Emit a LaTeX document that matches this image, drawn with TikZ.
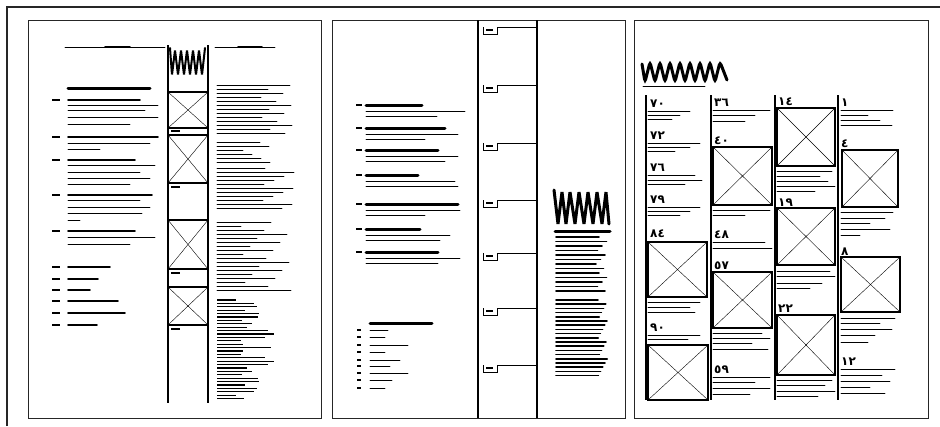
\documentclass[tikz,border=0pt]{standalone}
\usepackage{fontspec}
\newfontfamily\arabicfont[Script=Arabic]{DejaVu Sans}
\tikzset{
  outer/.style={line width=2.6pt,draw=black!85},
  panel/.style={line width=1pt,draw=black!85},
  rule/.style={line width=1.1pt},
  txt/.style={line width=0.9pt,line cap=round},
  bold/.style={line width=1.6pt,line cap=round},
  head/.style={line width=3pt,line cap=round},
  tag/.style={line width=1.8pt},
  squig/.style={line width=2pt,rounded corners=1.5pt,line cap=round},
  num/.style={anchor=south west,inner sep=0pt,font=\arabicfont\bfseries\fontsize{12}{12}\selectfont}
}
\begin{document}
\begin{tikzpicture}[x=1pt,y=-1pt]
\useasboundingbox (0,0) rectangle (940,426);
% outer frame and the three pages
\draw[outer] (7,426) -- (7,7) -- (940,7);
\draw[panel] (28,20) rectangle (321,418);
\draw[panel] (332,20) rectangle (625,418);
\draw[panel] (634,20) rectangle (928,418);

% ---- page 1 ----
\draw[txt] (65,47) -- (165,47);
\draw[bold] (105,47) -- (130,47);
\draw[txt] (215,47) -- (275,47);
\draw[bold] (238,47) -- (262,47);
\draw[rule] (168,45) -- (168,403);
\draw[rule] (208,45) -- (208,403);
\draw[squig] (170,48) -- (172,75) -- (175,50) -- (178,75) -- (181,50) -- (184,75) -- (187,50)
  -- (190,75) -- (193,50) -- (196,75) -- (199,50) -- (202,75) -- (205,48);
\foreach \ya/\yb in {92/128,135/183,220/269,287/325} {
  \draw[rule] (168,\ya) rectangle (208,\yb);
  \draw (168,\ya) -- (208,\yb);
  \draw (208,\ya) -- (168,\yb);
}
\foreach \y in {131,187,273,329} \draw[tag] (171,\y) -- (180,\y);
% left column
\draw[head] (68,88) -- (150,88);
\foreach \y in {100,137,160,195,231,267,279,290,301,313,325} \draw[tag] (52,\y) -- (60,\y);
\foreach \y/\l in {100/140,137/158,160/135,195/152,231/135}
  \draw[bold] (68,\y) -- (\l,\y);
\foreach \y/\l in {105/158,110/145,117/158,124/130,143/150,149/100,165/155,172/140,178/150,
  184/130,200/140,207/150,213/142,220/80,237/155,244/130}
  \draw[txt] (68,\y) -- (\l,\y);
\foreach \y/\l in {267/110,279/98,290/90,301/118,313/125,325/97}
  \draw[bold] (68,\y) -- (\l,\y);
% right column
\foreach \y in {85,89,...,133} {
  \pgfmathsetmacro\ll{258+mod(\y*13,37)}
  \draw[txt] (217,\y) -- (\ll,\y);
}
\foreach \y in {142,146,...,162} {
  \pgfmathsetmacro\ll{238+mod(\y*11,35)}
  \draw[txt] (217,\y) -- (\ll,\y);
}
\foreach \y in {168,172,...,208} {
  \pgfmathsetmacro\ll{256+mod(\y*17,39)}
  \draw[txt] (217,\y) -- (\ll,\y);
}
\foreach \y in {222,226,...,290} {
  \pgfmathsetmacro\ll{240+mod(\y*19,53)}
  \draw[txt] (217,\y) -- (\ll,\y);
}
\foreach \i in {0,...,29} {
  \pgfmathsetmacro\yy{300+3.4*\i}
  \pgfmathsetmacro\ll{236+mod(\i*\i*13+\i*5,41)}
  \draw[line width=1.2pt] (217,\yy) -- (\ll,\yy);
}

% ---- page 2 ----
\draw[rule] (478,20) -- (478,418);
\draw[rule] (537,20) -- (537,418);
\foreach \y in {27,85,143,200,253,308,365} {
  \draw (497,\y) -- (537,\y);
  \draw (483,\y) -- (483,\y+7) -- (497,\y+7) -- (497,\y);
  \draw[line width=1.3pt] (486,\y+3) -- (493,\y+3);
}
\foreach \y/\a/\b/\c in {105/422/465/437,128/445/458/425,150/438/458/445,175/418/455/458,
  204/458/460/425,229/420/450/440,252/438/460/438} {
  \draw[tag] (356,\y) -- (362,\y);
  \draw[head] (366,\y) -- (\a,\y);
  \draw[txt] (366,\y+6) -- (\b,\y+6);
  \draw[txt] (366,\y+11) -- (\c,\y+11);
}
\draw[head] (370,323) -- (432,323);
\foreach \y/\l in {330/388,337/385,345/408,352/385,360/400,366/390,373/408,380/392,388/385} {
  \draw[line width=1.6pt] (357,\y) -- (361,\y);
  \draw[txt] (370,\y) -- (\l,\y);
}
\draw[squig,line width=3pt] (554,190) -- (558,224) -- (562,192) -- (566,224) -- (570,192)
  -- (575,224) -- (579,192) -- (584,224) -- (588,192) -- (593,224) -- (597,192) -- (602,224)
  -- (606,192) -- (609,224);
\draw[head] (555,231) -- (610,231);
\foreach \y in {237,241.5,...,292} {
  \pgfmathsetmacro\ll{596+mod(\y*7,12)}
  \draw[bold] (556,\y) -- (\ll,\y);
}
\foreach \y in {300,304.2,...,376} {
  \pgfmathsetmacro\ll{598+mod(\y*9,10)}
  \draw[bold] (556,\y) -- (\ll,\y);
}

% ---- page 3 ----
\draw[squig,line width=3pt,rounded corners=3pt] (642,64) -- (645,82) -- (650,62) -- (655,82)
  -- (660,62) -- (665,82) -- (670,62) -- (675,82) -- (680,62) -- (685,82) -- (690,62)
  -- (695,82) -- (700,62) -- (705,82) -- (710,62) -- (715,82) -- (720,62) -- (727,80);
\draw[txt] (643,86) -- (705,86);
\foreach \x in {646,711,775,838} \draw[rule] (\x,95) -- (\x,400);
% numbers
\node[num] (n70) at (650,108) {٧٠};
\node[num] (n72) at (650,140) {٧٢};
\node[num] (n76) at (650,172) {٧٦};
\node[num] (n79) at (650,204) {٧٩};
\node[num] (n84) at (650,238) {٨٤};
\node[num] (n90) at (650,332) {٩٠};
\node[num] (n36) at (714,107) {٣٦};
\node[num] (n40) at (714,145) {٤٠};
\node[num] (n48) at (714,239) {٤٨};
\node[num] (n57) at (714,270) {٥٧};
\node[num] (n59) at (714,374) {٥٩};
\node[num] (n14) at (778,106) {١٤};
\node[num] (n19) at (778,207) {١٩};
\node[num] (n22) at (778,313) {٢٢};
\node[num] (n1) at (841,107) {١};
\node[num] (n4) at (841,148) {٤};
\node[num] (n8) at (841,256) {٨};
\node[num] (n12) at (841,366) {١٢};
% pictures
\foreach \xa/\ya/\xb/\yb in {648/242/707/297,648/345/708/400,713/147/772/205,713/272/772/328,
  777/108/835/166,777/208/835/265,777/315/835/375,842/150/898/207,841/257/900/312} {
  \draw[rule] (\xa,\ya) rectangle (\xb,\yb);
  \draw (\xa,\ya) -- (\xb,\yb);
  \draw (\xb,\ya) -- (\xa,\yb);
}
% text lines
\foreach \y/\l in {111/690,115/680,119/672,143/700,147/690,151/675,175/695,180/702,184/685,
  207/700,211/690,215/680,302/700,307/690,312/695,335/700,339/688}
  \draw[txt] (648,\y) -- (\l,\y);
\foreach \y/\l in {110/770,115/755,121/745,210/770,215/745,242/765,248/772,333/762,338/770,
  343/752,349/768,377/770,382/755,388/770,394/750}
  \draw[txt] (713,\y) -- (\l,\y);
\foreach \y/\l in {171/832,176/820,181/828,186/835,191/815,271/830,276/835,283/822,288/810,
  380/832,385/825,391/835,396/818}
  \draw[txt] (777,\y) -- (\l,\y);
\foreach \y/\l in {110/893,115/868,120/880,125/892,212/893,218/885,223/870,229/890,235/860,
  318/895,323/880,329/892,335/875,342/868,369/895,375/882,381/890,387/870,393/885}
  \draw[txt] (841,\y) -- (\l,\y);
\end{tikzpicture}
\end{document}
